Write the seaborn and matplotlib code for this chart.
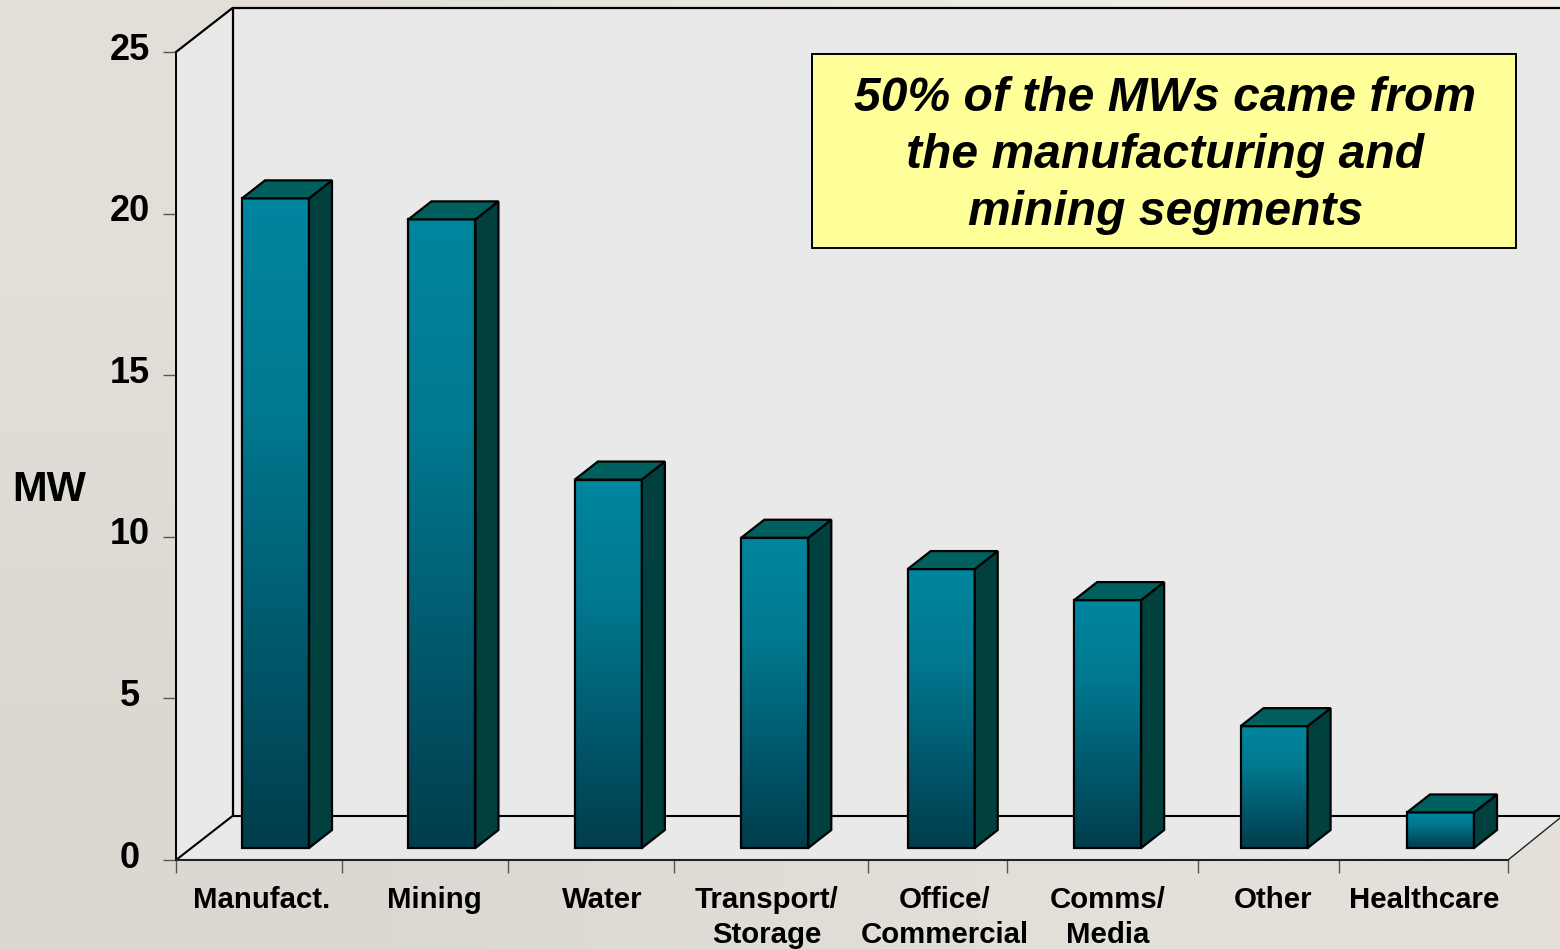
import numpy as np
import matplotlib
matplotlib.use("Agg")
import matplotlib.pyplot as plt
from matplotlib.patches import Polygon, Rectangle
from matplotlib.colors import LinearSegmentedColormap
from matplotlib.transforms import ScaledTranslation
import seaborn as sns

categories = ["Manufact.", "Mining", "Water", "Transport/\nStorage",
              "Office/\nCommercial", "Comms/\nMedia", "Other", "Healthcare"]
values = [20.1, 19.45, 11.4, 9.6, 8.63, 7.67, 3.77, 1.1]
y_ticks = [0, 5, 10, 15, 20, 25]
callout = "50% of the MWs came from\nthe manufacturing and\nmining segments"

sns.set_theme(style="white")
plt.rcParams["font.family"] = ["Liberation Sans", "DejaVu Sans"]

W, H = 1560, 949
fig = plt.figure(figsize=(W / 100, H / 100), dpi=100)

# Background + chart walls, in pixel space
bg = fig.add_axes([0, 0, 1, 1])
bg.set_axis_off()
corner = np.array([[0xE3, 0xF1], [0xDC, 0xE4]]) / 255.0
tint = np.dstack([corner, corner - 0.012, corner - 0.04])
bg.imshow(tint, extent=(0, W, H, 0), aspect="auto", interpolation="bilinear", zorder=0)
bg.set_xlim(0, W)
bg.set_ylim(H, 0)
wall = "#E9E9E9"
bg.add_patch(Rectangle((232.5, 8), W - 232, 808, fc=wall, ec="none", zorder=1))
bg.add_patch(Polygon([(176, 860), (232.5, 816), (W + 5, 816), (1508, 860)], fc=wall, ec="none", zorder=1))
bg.add_patch(Polygon([(176, 52), (232.5, 8), (232.5, 816), (176, 860)], fc=wall, ec="none", zorder=1))
bg.plot([176, 232.5, W + 5], [52, 8, 8], color="black", lw=1.6, zorder=2, solid_joinstyle="miter")
bg.plot([232.5, 232.5], [8, 816], color="black", lw=1.6, zorder=2)
bg.plot([176, 232.5, W + 5], [860, 816, 816], color="black", lw=1.5, zorder=2)
bg.plot([1508, 1560], [860, 818], color="#222222", lw=1.0, zorder=2)
bg.set_xlim(0, W)
bg.set_ylim(H, 0)

# Callout
bg.add_patch(Rectangle((811.5, 53.5), 704, 194, fc="#FFFF99", ec="black", lw=1.4, zorder=3))
bg.text(1165.5, 155.5, callout, ha="center", va="center", fontsize=34.6, fontweight="bold",
        fontstyle="italic", color="black", linespacing=1.345, zorder=4)

# Front axis frame with value ticks
ax = fig.add_axes([176 / W, (H - 860) / H, 1332 / W, 808 / H], facecolor="none")
ax.set_xlim(176, 1508)
ax.set_ylim(0, 25)
sns.despine(ax=ax)
ax.spines["left"].set_color("black")
ax.spines["left"].set_linewidth(1.4)
ax.spines["bottom"].set_color("#222222")
ax.spines["bottom"].set_linewidth(1.5)
ax.set_yticks(y_ticks)
ax.set_yticklabels([str(t) for t in y_ticks], fontsize=26, fontweight="bold", color="black")
ax.tick_params(axis="y", length=9.4, width=1.0, color="#555555", pad=24, left=True)
shift = ScaledTranslation(0, 6 / 100, fig.dpi_scale_trans)
for lab in ax.get_yticklabels():
    lab.set_ha("center")
    lab.set_transform(lab.get_transform() + shift)
ax.set_xticks([176, 342, 508, 675, 869, 1008, 1200, 1341, 1510])
ax.set_xticklabels([])
ax.tick_params(axis="x", which="major", length=9.6, width=1.0, color="#555555", bottom=True)
ax.set_xticks([261.5, 435, 603, 767.5, 945.5, 1109.5, 1275, 1426], minor=True)
ax.set_xticklabels(categories, minor=True, fontsize=21.2, fontweight="bold", color="black",
                   va="top", ha="center", linespacing=1.29)
ax.tick_params(axis="x", which="minor", length=0, pad=19, bottom=True)
ax.set_ylabel("MW", rotation=0, fontsize=30, fontweight="bold", color="black", ha="center", va="center")
ax.yaxis.set_label_coords((49 - 176) / 1332, (860 - 490) / 808)

# Bars, on an axes raised to the mid-depth of the floor
bx = fig.add_axes([176 / W, (H - 848) / H, 1332 / W, 808 / H], facecolor="none")
sns.barplot(x=categories, y=values, color="#00829C", width=67 / 166.43, saturation=1, ax=bx)
x_lim = ((176 - 275.5) / 166.43, (1508 - 275.5) / 166.43)
bx.set_axis_off()
dx, dy = 23 / 166.43, 18 / 32.32
grad = LinearSegmentedColormap.from_list("bar", ["#00869F", "#00788F", "#005A6E", "#003D4C"])
ramp = np.linspace(0, 1, 256).reshape(-1, 1)
edge_lw = 1.6
for p in list(bx.patches):
    x0, w, h = p.get_x(), p.get_width(), p.get_height()
    x1 = x0 + w
    bx.imshow(ramp, cmap=grad, extent=(x0, x1, 0, h), aspect="auto", origin="upper", zorder=3)
    p.set_facecolor("none")
    p.set_edgecolor("black")
    p.set_linewidth(edge_lw)
    p.set_zorder(4)
    p.set_clip_on(False)
    bx.add_patch(Polygon([(x1, 0), (x1 + dx, dy), (x1 + dx, h + dy), (x1, h)], fc="#00403F",
                         ec="black", lw=edge_lw, zorder=4, clip_on=False, joinstyle="miter"))
    bx.add_patch(Polygon([(x0, h), (x1, h), (x1 + dx, h + dy), (x0 + dx, h + dy)], fc="#00605F",
                         ec="black", lw=edge_lw, zorder=4, clip_on=False, joinstyle="miter"))
bx.set_xlim(*x_lim)
bx.set_ylim(0, 25)

fig.savefig("out.png", dpi=100)
